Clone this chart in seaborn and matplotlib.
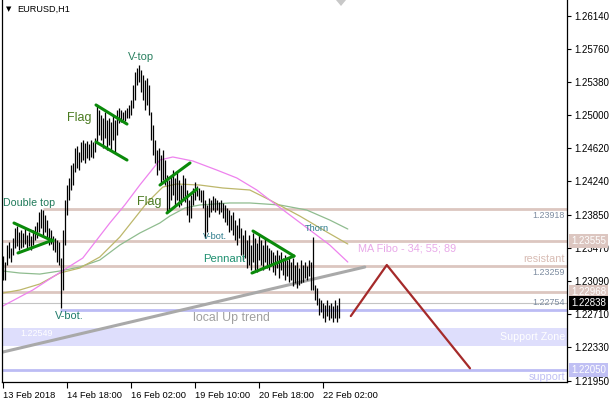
import matplotlib
matplotlib.use("Agg")
import matplotlib.pyplot as plt
import matplotlib.transforms as mtransforms
import seaborn as sns

# ---------------- data ----------------
symbol = "EURUSD,H1"

bar_highs = [
    1.2338, 1.2331, 1.2351, 1.2354, 1.2347, 1.2359, 1.2370, 1.2372, 1.2366, 1.2368,
    1.2364, 1.2370, 1.2362, 1.2366, 1.2361, 1.2368, 1.2372, 1.2377, 1.2388, 1.2392,
    1.2391, 1.2385, 1.2379, 1.2370, 1.2368, 1.2361, 1.2359, 1.2356, 1.2354, 1.2336,
    1.2368, 1.2402, 1.2419, 1.2427, 1.2442, 1.2445, 1.2462, 1.2464, 1.2457, 1.2469,
    1.2471, 1.2468, 1.2470, 1.2467, 1.2471, 1.2469, 1.2473, 1.2511, 1.2506, 1.2500,
    1.2496, 1.2503, 1.2494, 1.2496, 1.2492, 1.2500, 1.2494, 1.2506, 1.2508, 1.2506,
    1.2503, 1.2506, 1.2508, 1.2511, 1.2517, 1.2534, 1.2549, 1.2554, 1.2557, 1.2551,
    1.2546, 1.2540, 1.2542, 1.2534, 1.2503, 1.2488, 1.2471, 1.2460, 1.2462, 1.2454,
    1.2460, 1.2448, 1.2431, 1.2425, 1.2431, 1.2437, 1.2427, 1.2434, 1.2425, 1.2419,
    1.2431, 1.2427, 1.2414, 1.2402, 1.2408, 1.2416, 1.2423, 1.2418, 1.2416, 1.2414,
    1.2414, 1.2402, 1.2397, 1.2405, 1.2402, 1.2407, 1.2405, 1.2402, 1.2400, 1.2402,
    1.2399, 1.2397, 1.2393, 1.2391, 1.2385, 1.2388, 1.2379, 1.2374, 1.2381, 1.2370,
    1.2362, 1.2368, 1.2356, 1.2362, 1.2351, 1.2364, 1.2359, 1.2353, 1.2362, 1.2356,
    1.2351, 1.2359, 1.2351, 1.2347, 1.2345, 1.2342, 1.2339, 1.2345, 1.2339, 1.2342,
    1.2336, 1.2339, 1.2333, 1.2337, 1.2331, 1.2336, 1.2328, 1.2331, 1.2324, 1.2333,
    1.2328, 1.2331, 1.2326, 1.2333, 1.2331, 1.2360, 1.2305, 1.2301, 1.2290, 1.2287,
    1.2284, 1.2282, 1.2287, 1.2282, 1.2284, 1.2281, 1.2287, 1.2282, 1.2290,
]
bar_lows = [
    1.2310, 1.2310, 1.2328, 1.2336, 1.2331, 1.2339, 1.2347, 1.2349, 1.2345, 1.2347,
    1.2348, 1.2352, 1.2345, 1.2349, 1.2345, 1.2351, 1.2356, 1.2359, 1.2366, 1.2370,
    1.2360, 1.2366, 1.2359, 1.2351, 1.2352, 1.2345, 1.2342, 1.2331, 1.2328, 1.2278,
    1.2299, 1.2351, 1.2385, 1.2402, 1.2414, 1.2419, 1.2434, 1.2439, 1.2437, 1.2446,
    1.2448, 1.2445, 1.2450, 1.2448, 1.2452, 1.2450, 1.2457, 1.2468, 1.2477, 1.2471,
    1.2462, 1.2473, 1.2460, 1.2465, 1.2460, 1.2471, 1.2457, 1.2477, 1.2491, 1.2492,
    1.2494, 1.2493, 1.2496, 1.2496, 1.2500, 1.2508, 1.2517, 1.2534, 1.2538, 1.2526,
    1.2517, 1.2506, 1.2511, 1.2500, 1.2471, 1.2454, 1.2445, 1.2431, 1.2437, 1.2422,
    1.2425, 1.2419, 1.2388, 1.2391, 1.2402, 1.2408, 1.2397, 1.2402, 1.2394, 1.2397,
    1.2405, 1.2400, 1.2385, 1.2377, 1.2381, 1.2397, 1.2402, 1.2407, 1.2402, 1.2400,
    1.2393, 1.2359, 1.2366, 1.2383, 1.2388, 1.2391, 1.2388, 1.2391, 1.2386, 1.2388,
    1.2381, 1.2377, 1.2374, 1.2366, 1.2368, 1.2362, 1.2356, 1.2351, 1.2359, 1.2339,
    1.2333, 1.2336, 1.2324, 1.2328, 1.2322, 1.2331, 1.2322, 1.2320, 1.2333, 1.2328,
    1.2322, 1.2331, 1.2324, 1.2322, 1.2326, 1.2320, 1.2316, 1.2324, 1.2313, 1.2322,
    1.2316, 1.2310, 1.2315, 1.2308, 1.2310, 1.2303, 1.2307, 1.2301, 1.2305, 1.2307,
    1.2308, 1.2313, 1.2310, 1.2315, 1.2299, 1.2299, 1.2287, 1.2282, 1.2270, 1.2274,
    1.2267, 1.2262, 1.2269, 1.2264, 1.2267, 1.2262, 1.2267, 1.2262, 1.2267,
]

x_tick_pos = [0, 32, 64, 96, 128, 160]
x_tick_labels = ["13 Feb 2018", "14 Feb 18:00", "16 Feb 02:00",
                 "19 Feb 10:00", "20 Feb 18:00", "22 Feb 02:00"]
y_tick_vals = [1.26140, 1.25760, 1.25380, 1.25000, 1.24620, 1.24240,
               1.23850, 1.23470, 1.23090, 1.22710, 1.22330, 1.21950]
y_tick_labels = ["1.26140", "1.25760", "1.25380", "1.25000", "1.24620", "1.24240",
                 "1.23850", "1.23470", "1.23090", "1.22710", "1.22330", "1.21950"]

# moving averages (MA Fibo 34/55/89), read as vertices
ma34_x = [0, 15, 25, 32, 40, 53.5, 61, 68.5, 78.5, 85, 95, 107, 117, 127, 133.5, 143.5, 153.5, 163.5, 172.5]
ma34_y = [1.22805, 1.22989, 1.23138, 1.23241, 1.23356, 1.23758, 1.23965, 1.24194, 1.24481, 1.24516,
          1.24470, 1.24366, 1.24275, 1.24137, 1.24022, 1.23850, 1.23678, 1.23505, 1.23310]
ma55_x = [0, 8.5, 18.5, 28.5, 38.5, 48.5, 58.5, 72, 80, 87, 98.5, 110, 123.5, 133.5, 148.5, 162, 172.5]
ma55_y = [1.22954, 1.22989, 1.23058, 1.23184, 1.23241, 1.23368, 1.23597, 1.23988, 1.24171, 1.24206,
          1.24194, 1.24160, 1.24137, 1.24022, 1.23838, 1.23655, 1.23517]
ma89_x = [0, 8.5, 18.5, 28.5, 38.5, 48.5, 58.5, 68.5, 78.5, 83.5, 91, 98.5, 113.5, 123.5, 138.5, 152, 163.5, 172.5]
ma89_y = [1.23207, 1.23184, 1.23172, 1.23207, 1.23253, 1.23333, 1.23505, 1.23643, 1.23758, 1.23838,
          1.23930, 1.23965, 1.23988, 1.23988, 1.23965, 1.23907, 1.23792, 1.23689]

resistance_levels = [1.23918, 1.23555, 1.23259, 1.22968]
resistance_start = [20, -1, -1, -1]
level_22754 = 1.22754
bid_price = 1.22838
zone_top, zone_bottom = 1.22549, 1.22349
support_level = 1.22070
support_label = "1.22050"

trend_x = [0, 181]
trend_y = [1.22277, 1.23253]
proj_x = [174, 192, 233.6]
proj_y = [1.22690, 1.23276, 1.22090]

pattern_lines = [  # (x0, y0, x1, y1)
    (5.6, 1.23758, 25.1, 1.23551),
    (7.6, 1.23414, 25.1, 1.23563),
    (46.6, 1.25113, 62.1, 1.24894),
    (46.6, 1.24688, 62.1, 1.24481),
    (78.6, 1.24194, 93.6, 1.24447),
    (82.1, 1.23873, 97.1, 1.24148),
    (125.1, 1.23666, 145.6, 1.23379),
    (124.6, 1.23184, 145.6, 1.23379),
]

annotations = [  # text, x, y, size, color
    ("V-top", 62.6, 1.25664, 8.0, "#2a8060"),
    ("Flag", 32.1, 1.24963, 9.0, "#4a7a20"),
    ("Double top", 0, 1.23990, 7.7, "#1f7a5a"),
    ("V-bot.", 26, 1.22690, 7.9, "#1f7a6a"),
    ("Flag", 67, 1.24000, 9.0, "#4a7a20"),
    ("V-bot.", 100, 1.23600, 6.6, "#2a7a8a"),
    ("Pennant", 100, 1.23350, 8.2, "#1f9070"),
    ("Thorn", 151, 1.23690, 6.6, "#2a7a8a"),
]

# ---------------- style ----------------
sns.set_theme(style="white")
plt.rcParams["font.family"] = ["Liberation Sans", "DejaVu Sans"]

fig = plt.figure(figsize=(6.1, 4.0), dpi=100)
fig.patch.set_facecolor("white")
ax = fig.add_axes([2 / 610, 1 - 382 / 400, 565 / 610, 382 / 400])
ax.set_facecolor("white")

ax.set_xlim(-0.4, 282.1)
ax.set_ylim(1.21933, 1.26318)

brown = "#dcc6c0"
lav = "#bcbcf4"

# support zone
ax.axhspan(zone_bottom, zone_top, color="#dedefc", lw=0, zorder=0.5)
ax.text(9, zone_top - 0.00004, "1.22549", fontsize=6.4, color="white", va="top", ha="left", zorder=1)

# horizontal levels
for lvl, st in zip(resistance_levels, resistance_start):
    ax.hlines(lvl, st, 282.1, color=brown, lw=2.0, zorder=1)
ax.hlines(level_22754, 28.6, 282.1, color=lav, lw=2.0, zorder=1)
ax.hlines(support_level, -0.4, 282.1, color=lav, lw=2.0, zorder=1)
ax.axhline(bid_price, color="#c4c4c4", lw=0.8, zorder=1)

# moving averages
for xs, ys, c in [(ma89_x, ma89_y, "#8fbc8f"), (ma55_x, ma55_y, "#bdb76b"), (ma34_x, ma34_y, "#ee82ee")]:
    sns.lineplot(x=xs, y=ys, ax=ax, color=c, lw=0.9, zorder=2, sort=False)

# trend line
sns.lineplot(x=trend_x, y=trend_y, ax=ax, color="#a9a9a9", lw=2.2, zorder=2.2, sort=False)

# bars
idx = list(range(len(bar_highs)))
ax.vlines(idx, bar_lows, bar_highs, color="black", lw=0.9, zorder=3)

# pattern lines
for x0, y0, x1, y1 in pattern_lines:
    ax.plot([x0, x1], [y0, y1], color="#0a8a0a", lw=2.2, solid_capstyle="round", zorder=4)

# projection
sns.lineplot(x=proj_x, y=proj_y, ax=ax, color="#a52a2a", lw=1.6, zorder=4, sort=False)

# annotations
for t, x, y, s, c in annotations:
    ax.text(x, y, t, fontsize=s, color=c, ha="left", va="center", zorder=5)
ax.text(95, 1.22670, "local Up trend", fontsize=8.9, color="#a0a0a0", ha="left", va="center", zorder=5)
ax.text(177.5, 1.23460, "MA Fibo - 34; 55; 89", fontsize=7.8, color="#e8a8e8", ha="left", va="center", zorder=5)

# right side labels inside chart
tr_r = mtransforms.blended_transform_factory(ax.transAxes, ax.transData)
ax.text(0.9965, 1.23918 - 0.00018, "1.23918", transform=tr_r, fontsize=6.4, color="#7d8ca0", ha="right", va="top")
ax.text(0.9965, 1.23259 + 0.00028, "resistant", transform=tr_r, fontsize=7.8, color="#d8bcb4", ha="right", va="bottom")
ax.text(0.9965, 1.23259 - 0.00018, "1.23259", transform=tr_r, fontsize=6.4, color="#7d8ca0", ha="right", va="top")
ax.text(0.9965, level_22754 + 0.00035, "1.22754", transform=tr_r, fontsize=6.4, color="#7d8ca0", ha="right", va="bottom")
ax.text(0.9965, (zone_top + zone_bottom) / 2, "Support Zone", transform=tr_r, fontsize=7.7, color="white", ha="right", va="center")
ax.text(0.9965, support_level - 0.00018, "support", transform=tr_r, fontsize=7.8, color="#c0c0f4", ha="right", va="top")

# axes styling
ax.spines["top"].set_visible(False)
for sp in ["left", "right", "bottom"]:
    ax.spines[sp].set_visible(True)
    ax.spines[sp].set_color("black")
    ax.spines[sp].set_linewidth(0.9)

ax.yaxis.tick_right()
ax.set_yticks(y_tick_vals)
ax.set_yticklabels(y_tick_labels)
ax.tick_params(axis="y", which="both", right=True, left=False, direction="out", length=3,
               width=0.8, color="black", pad=2, labelsize=7.0, labelcolor="black")
ax.set_xticks(x_tick_pos)
ax.set_xticklabels(x_tick_labels, ha="left")
ax.tick_params(axis="x", which="both", bottom=True, direction="out", length=4, width=0.8,
               color="black", pad=2.5, labelsize=6.7, labelcolor="black")
ax.grid(False)

# axis price boxes
tr_box = mtransforms.offset_copy(tr_r, fig=fig, x=4, y=0, units="dots")
for val, txt, fc in [(1.23555, "1.23555", "#dcc6c0"), (1.22968, "1.22968", "#dcc6c0"),
                     (bid_price, "1.22838", "black"), (support_level, support_label, "#c0c0f4")]:
    ax.text(1.0, val, txt, transform=tr_box, fontsize=7.0, color="white", ha="left", va="center",
            clip_on=False, zorder=10,
            bbox=dict(boxstyle="square,pad=0.2", fc=fc, ec="none"))

# title
fig.text(6 / 610, 1 - 9 / 400, "\u25bc", fontsize=5, color="black", ha="left", va="center",
         family=["DejaVu Sans"])
fig.text(17 / 610, 1 - 9 / 400, symbol, fontsize=6.6, color="black", ha="left", va="center")

# chart shift marker
fig.patches.append(plt.Polygon([[336 / 610, 1.0], [346 / 610, 1.0], [341 / 610, 1 - 6 / 400]],
                               closed=True, transform=fig.transFigure, fc="#c8c8c8", ec="none"))

fig.savefig("out.png", dpi=100, facecolor="white")
